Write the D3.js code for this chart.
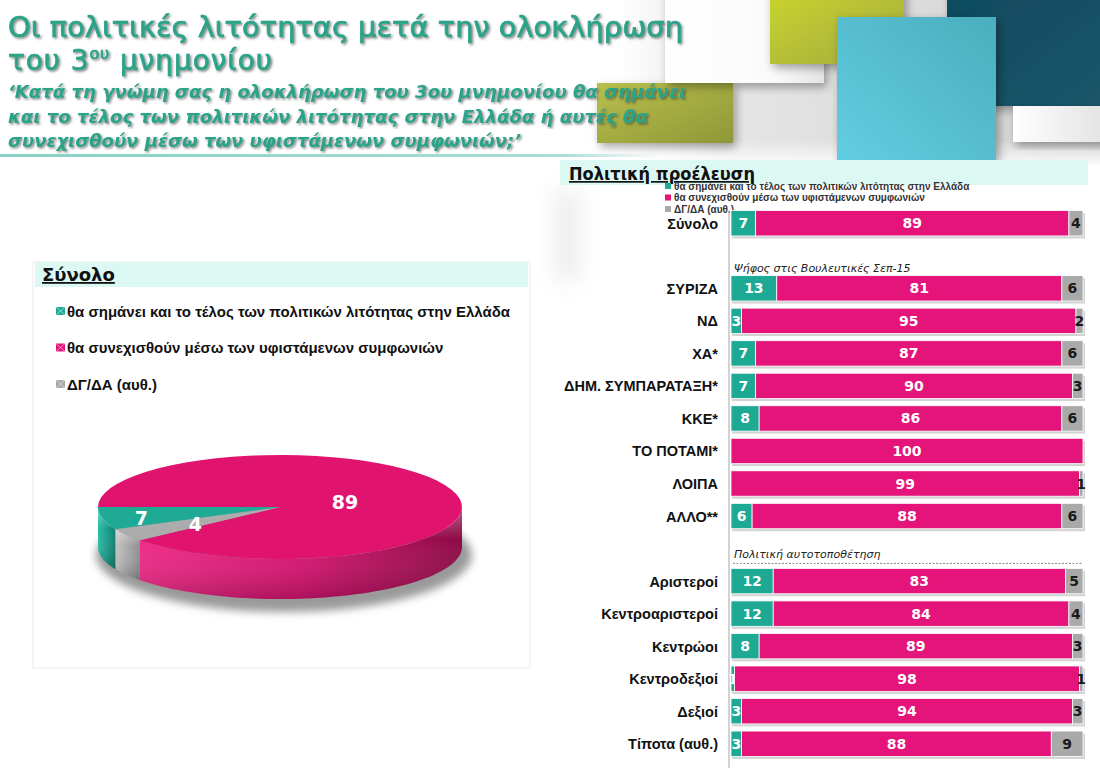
<!DOCTYPE html>
<html>
<head>
<meta charset="utf-8">
<script src="https://cdn.jsdelivr.net/npm/d3@7"></script>
<style>
body { margin: 0; background: #fff; }
svg { display: block; }
</style>
</head>
<body>
<svg id="chart"></svg>
<script>
// ---- data ----
const seriesKeys = ["end", "cont", "dk"];
const seriesNames = [
    "θα σημάνει και το τέλος των πολιτικών λιτότητας στην Ελλάδα",
    "θα συνεχισθούν μέσω των υφιστάμενων συμφωνιών",
    "ΔΓ/ΔΑ (αυθ.)"
];
const seriesColors = ["#1ea995", "#e4147a", "#a9a9a9"];
const totalValues = [7, 89, 4];

const groups = ["Σύνολο", "ΣΥΡΙΖΑ", "ΝΔ", "ΧΑ*", "ΔΗΜ. ΣΥΜΠΑΡΑΤΑΞΗ*", "ΚΚΕ*", "ΤΟ ΠΟΤΑΜΙ*", "ΛΟΙΠΑ", "ΑΛΛΟ**",
    "Αριστεροί", "Κεντροαριστεροί", "Κεντρώοι", "Κεντροδεξιοί", "Δεξιοί", "Τίποτα (αυθ.)"];
const endValues      = [7, 13, 3, 7, 7, 8, 0, 0, 6, 12, 12, 8, 1, 3, 3];
const continueValues = [89, 81, 95, 87, 90, 86, 100, 99, 88, 83, 84, 89, 98, 94, 88];
const dkValues       = [4, 6, 2, 6, 3, 6, 0, 1, 6, 5, 4, 3, 1, 3, 9];

const sectionStarts = ["ΣΥΡΙΖΑ", "Αριστεροί"];
const sectionLabels = ["Ψήφος στις Βουλευτικές Σεπ-15", "Πολιτική αυτοτοποθέτηση"];

const titleLines = ["Οι πολιτικές λιτότητας μετά την ολοκλήρωση"];
const subtitleLines = [
    "‘Κατά τη γνώμη σας η ολοκλήρωση του 3ου μνημονίου θα σημάνει",
    "και το τέλος των πολιτικών λιτότητας στην Ελλάδα ή αυτές θα",
    "συνεχισθούν μέσω των υφιστάμενων συμφωνιών;’"
];

const width = 1100, height = 770;
const svg = d3.select("#chart").attr("width", width).attr("height", height);
const defs = svg.append("defs");

function linGrad(id, stops, x1, y1, x2, y2) {
    const g = defs.append("linearGradient").attr("id", id)
        .attr("x1", x1).attr("y1", y1).attr("x2", x2).attr("y2", y2);
    stops.forEach(s => g.append("stop").attr("offset", s[0]).attr("stop-color", s[1])
        .attr("stop-opacity", s[2] === undefined ? 1 : s[2]));
    return "url(#" + id + ")";
}

const shadow = defs.append("filter").attr("id", "shadow").attr("x", "-20%").attr("y", "-20%")
    .attr("width", "140%").attr("height", "140%");
shadow.append("feDropShadow").attr("dx", 3).attr("dy", 4).attr("stdDeviation", 5)
    .attr("flood-color", "#000").attr("flood-opacity", 0.35);

const textShadow = defs.append("filter").attr("id", "textShadow");
textShadow.append("feDropShadow").attr("dx", 1.5).attr("dy", 1.5).attr("stdDeviation", 0.8)
    .attr("flood-color", "#333").attr("flood-opacity", 0.6);

const blur = defs.append("filter").attr("id", "blur");
blur.append("feGaussianBlur").attr("stdDeviation", 4);

const softBlur = defs.append("filter").attr("id", "softBlur")
    .attr("x", "-100%").attr("y", "-50%").attr("width", "300%").attr("height", "200%");
softBlur.append("feGaussianBlur").attr("stdDeviation", 12);

/*~~~~~~~~~~~~~~~~~~ decorative header blocks ~~~~~~~~~~~~~~~~~~*/
const deco = svg.append("g");
deco.append("rect").attr("x", 620).attr("y", 0).attr("width", 480).attr("height", 165)
    .attr("fill", linGrad("bgGrey", [[0, "#fff"], [0.2, "#e6e6e6"], [1, "#d2d2d2"]], 0, 0, 1, 0));
deco.append("rect").attr("x", 560).attr("y", 140).attr("width", 540).attr("height", 25)
    .attr("fill", linGrad("bgFade", [[0, "#fff", 0], [1, "#fff", 0.9]], 0, 0, 0, 1));
deco.append("rect").attr("x", 597).attr("y", 83).attr("width", 136).attr("height", 60)
    .attr("fill", linGrad("olive", [[0, "#b9be4c"], [1, "#8e9837"]], 0, 0, 1, 1)).attr("filter", "url(#shadow)");
deco.append("rect").attr("x", 665).attr("y", -10).attr("width", 159).attr("height", 93)
    .attr("fill", linGrad("whiteBlock", [[0, "#ffffff"], [0.7, "#fafafa"], [1, "#e4e4e4"]], 0, 0, 1, 0))
    .attr("filter", "url(#shadow)");
deco.append("rect").attr("x", 770).attr("y", -10).attr("width", 134).attr("height", 74)
    .attr("fill", linGrad("lime", [[0, "#c9d52c"], [1, "#a3a941"]], 0, 0, 1, 1)).attr("filter", "url(#shadow)");
deco.append("rect").attr("x", 947).attr("y", -10).attr("width", 160).attr("height", 116)
    .attr("fill", linGrad("navy", [[0, "#0f4a5f"], [1, "#1b5669"]], 0, 0, 1, 1)).attr("filter", "url(#shadow)");
deco.append("rect").attr("x", 1013).attr("y", 106).attr("width", 95).attr("height", 36)
    .attr("fill", linGrad("pale", [[0, "#ffffff"], [1, "#e2e2e2"]], 0, 0, 1, 0)).attr("filter", "url(#shadow)");
deco.append("rect").attr("x", 837).attr("y", 17).attr("width", 159).attr("height", 143)
    .attr("fill", linGrad("cyan", [[0, "#62cde2"], [1, "#4aaebd"]], 0, 1, 1, 0)).attr("filter", "url(#shadow)");

// title line under the header
svg.append("rect").attr("x", 0).attr("y", 154).attr("width", 660).attr("height", 3)
    .attr("fill", linGrad("rule", [[0, "#86d1c7"], [0.85, "#a8ddd6"], [1, "#a8ddd6", 0]], 0, 0, 1, 0));

/*~~~~~~~~~~~~~~~~~~ titles ~~~~~~~~~~~~~~~~~~*/
const teal = "#2ba389";
svg.append("text").attr("x", 8).attr("y", 37)
    .attr("font-family", "DejaVu Sans").attr("font-size", 28).attr("fill", teal)
    .attr("stroke", teal).attr("stroke-width", 0.7)
    .attr("filter", "url(#textShadow)")
    .attr("textLength", 675).attr("lengthAdjust", "spacingAndGlyphs")
    .text(titleLines[0]);

const t2 = svg.append("text").attr("x", 8).attr("y", 70)
    .attr("font-family", "DejaVu Sans").attr("font-size", 28).attr("fill", teal)
    .attr("stroke", teal).attr("stroke-width", 0.7)
    .attr("letter-spacing", 0.9)
    .attr("filter", "url(#textShadow)");
t2.append("tspan").text("του 3");
t2.append("tspan").attr("dy", -11).attr("font-size", 16).text("ου");
t2.append("tspan").attr("dy", 11).text(" μνημονίου");

const subLengths = [678, 640, 513];
svg.selectAll(".subtitle").data(subtitleLines).enter().append("text")
    .attr("class", "subtitle")
    .attr("x", 8).attr("y", (d, i) => 98 + i * 24.5)
    .attr("font-family", "DejaVu Sans").attr("font-size", 18)
    .attr("font-weight", "bold").attr("font-style", "italic")
    .attr("fill", teal).attr("filter", "url(#textShadow)")
    .attr("textLength", (d, i) => subLengths[i]).attr("lengthAdjust", "spacingAndGlyphs")
    .text(d => d);

/*~~~~~~~~~~~~~~~~~~ left panel: pie ~~~~~~~~~~~~~~~~~~*/
svg.append("rect").attr("x", 33).attr("y", 262).attr("width", 497).attr("height", 406)
    .attr("fill", "#fff").attr("stroke", "#ececec");
svg.append("rect").attr("x", 35).attr("y", 262).attr("width", 493).attr("height", 25).attr("fill", "#dcf8f3");
svg.append("text").attr("x", 42).attr("y", 281)
    .attr("font-family", "DejaVu Sans").attr("font-size", 18).attr("font-weight", "bold")
    .attr("text-decoration", "underline").attr("fill", "#111").text("Σύνολο");

const pieLegend = svg.append("g").selectAll("g").data(seriesNames).enter().append("g")
    .attr("transform", (d, i) => `translate(56, ${311 + i * 36.5})`);
pieLegend.append("rect").attr("x", 0).attr("y", -4).attr("width", 9).attr("height", 8)
    .attr("fill", (d, i) => seriesColors[i]);
pieLegend.append("path").attr("d", "M0,-4 L4.5,0 L0,4 M9,-4 L4.5,0 L9,4")
    .attr("stroke", "#fff").attr("stroke-opacity", 0.5).attr("fill", "none");
pieLegend.append("text").attr("x", 11).attr("y", 5.5)
    .attr("font-family", "Liberation Sans").attr("font-size", 15).attr("font-weight", "bold")
    .attr("fill", "#111").text(d => d);

const cx = 280, cy = 507, rx = 182, ry = 52, depth = 40;
const pieData = d3.pie().sort(null).value(d => d.value)
    .startAngle(-Math.PI / 2).endAngle(3 * Math.PI / 2)
    ([{ i: 1, value: totalValues[1] }, { i: 2, value: totalValues[2] }, { i: 0, value: totalValues[0] }]);

const pt = (a, r = 1, dy = 0) => [cx + rx * r * Math.sin(a), cy - ry * r * Math.cos(a) + dy];
const line = d3.line();
const sample = (a0, a1) => d3.range(0, 61).map(k => a0 + (a1 - a0) * k / 60);

const sideColors = [
    linGrad("sideTeal", [[0, "#27c0a8"], [1, "#11806f"]], 0, 0, 1, 0),
    linGrad("sideMag", [[0, "#ee2a88"], [0.5, "#d81372"], [1, "#8d0b46"]], 0, 0, 1, 0),
    linGrad("sideGrey", [[0, "#c4c4c4"], [1, "#8e8e8e"]], 0, 0, 1, 0)
];
const sideShade = linGrad("sideShade", [[0, "#fff", 0.35], [0.35, "#fff", 0], [1, "#000", 0.2]], 0, 0, 0, 1);

const pieG = svg.append("g");
pieG.append("ellipse").attr("cx", cx + 4).attr("cy", cy + depth + 8).attr("rx", rx + 6).attr("ry", ry + 5)
    .attr("fill", "#9a9a9a").attr("filter", "url(#blur)");

pieData.forEach(s => {
    const a0 = Math.max(s.startAngle, Math.PI / 2), a1 = Math.min(s.endAngle, 3 * Math.PI / 2);
    if (a1 <= a0) return;
    const top = sample(a0, a1).map(a => pt(a));
    const bottom = sample(a0, a1).reverse().map(a => pt(a, 1, depth));
    const d = line(top.concat(bottom)) + "Z";
    pieG.append("path").attr("d", d).attr("fill", sideColors[s.data.i]);
    pieG.append("path").attr("d", d).attr("fill", sideShade);
});

const topColors = ["#1eaa95", "#e0136f", "#acacac"];
pieData.forEach(s => {
    const d = line([[cx, cy]].concat(sample(s.startAngle, s.endAngle).map(a => pt(a)))) + "Z";
    pieG.append("path").attr("d", d).attr("fill", topColors[s.data.i]);
});

pieData.forEach(s => {
    const mid = (s.startAngle + s.endAngle) / 2;
    const r = s.value > 50 ? 0.38 : s.value > 5 ? 0.78 : 0.55;
    const p = pt(mid, r);
    pieG.append("text").attr("x", p[0]).attr("y", p[1] + 9)
        .attr("text-anchor", "middle")
        .attr("font-family", "DejaVu Sans").attr("font-size", 19).attr("font-weight", "bold")
        .attr("fill", "#fff").text(s.value);
});

/*~~~~~~~~~~~~~~~~~~ right panel: stacked bars ~~~~~~~~~~~~~~~~~~*/
svg.append("rect").attr("x", 556).attr("y", 190).attr("width", 22).attr("height", 90)
    .attr("fill", "#e9e9e9").attr("filter", "url(#softBlur)");
svg.append("rect").attr("x", 560).attr("y", 160).attr("width", 528).attr("height", 25).attr("fill", "#dcf8f3");
svg.append("text").attr("x", 569).attr("y", 180)
    .attr("font-family", "DejaVu Sans").attr("font-size", 17).attr("font-weight", "bold")
    .attr("text-decoration", "underline").attr("fill", "#111")
    .attr("textLength", 186).attr("lengthAdjust", "spacingAndGlyphs")
    .text("Πολιτική προέλευση");

const barLegend = svg.append("g").selectAll("g").data(seriesNames).enter().append("g")
    .attr("transform", (d, i) => `translate(665, ${186 + i * 11.5})`);
barLegend.append("rect").attr("x", 0).attr("y", -3).attr("width", 6).attr("height", 6)
    .attr("fill", (d, i) => seriesColors[i]);
barLegend.append("text").attr("x", 9).attr("y", 3.5)
    .attr("font-family", "Liberation Sans").attr("font-size", 10).attr("font-weight", "bold")
    .attr("fill", "#333").text(d => d);

// slots: groups with a spacer before every section
const slots = [];
groups.forEach(g => {
    const si = sectionStarts.indexOf(g);
    if (si >= 0) slots.push("gap" + si);
    slots.push(g);
});

const y = d3.scaleBand().domain(slots).range([207, 760]).paddingInner(0.22).paddingOuter(0.11);
const x = d3.scaleLinear().domain([0, 100]).range([731, 1083]);

const rows = groups.map((g, i) => ({ group: g, end: endValues[i], cont: continueValues[i], dk: dkValues[i] }));
const stacked = d3.stack().keys(seriesKeys)(rows);

svg.append("line").attr("x1", 729).attr("x2", 729)
    .attr("y1", y(groups[0])).attr("y2", 768)
    .attr("stroke", "#b5b5b5").attr("stroke-width", 1.2);

// section headers
sectionStarts.forEach((g, i) => {
    const top = y(g);
    svg.append("text").attr("x", 734).attr("y", top - (i === 0 ? 4 : 10))
        .attr("font-family", "DejaVu Sans").attr("font-size", 11).attr("font-style", "italic")
        .attr("fill", "#222").text(sectionLabels[i]);
    if (i === 1) {
        svg.append("line").attr("x1", 733).attr("x2", 1083)
            .attr("y1", top - 5).attr("y2", top - 5)
            .attr("stroke", "#888").attr("stroke-dasharray", "2,1.5");
    }
});

// light shadow under each bar
svg.append("g").selectAll("rect").data(rows).enter().append("rect")
    .attr("x", x(0) + 1).attr("y", d => y(d.group) + 2.5)
    .attr("width", x(100) - x(0) + 1).attr("height", y.bandwidth())
    .attr("fill", "#d3d3d3");

const layers = svg.append("g").selectAll("g").data(stacked).enter().append("g")
    .attr("fill", (d, i) => seriesColors[i]);

layers.selectAll("rect").data(d => d.map(v => Object.assign(v, { key: d.key })))
    .enter().append("rect")
    .attr("x", d => x(d[0]))
    .attr("y", d => y(d.data.group))
    .attr("width", d => x(d[1]) - x(d[0]))
    .attr("height", y.bandwidth())
    .attr("stroke", "#fff").attr("stroke-width", 0.8);

layers.selectAll("text").data(d => d.filter(v => v[1] - v[0] > 0))
    .enter().append("text")
    .attr("x", d => (x(d[0]) + x(d[1])) / 2)
    .attr("y", d => y(d.data.group) + y.bandwidth() / 2 + 5)
    .attr("text-anchor", "middle")
    .attr("font-family", "DejaVu Sans").attr("font-size", 14).attr("font-weight", "bold")
    .attr("fill", d => d.key === "dk" ? "#1a1a1a" : "#fff")
    .text(d => d[1] - d[0]);

// category labels
svg.append("g").selectAll("text").data(groups).enter().append("text")
    .attr("x", 718).attr("y", g => y(g) + y.bandwidth() / 2 + 5.5)
    .attr("text-anchor", "end")
    .attr("font-family", "Liberation Sans").attr("font-size", 14.5).attr("font-weight", "bold")
    .attr("fill", "#111").text(g => g);
</script>
</body>
</html>
